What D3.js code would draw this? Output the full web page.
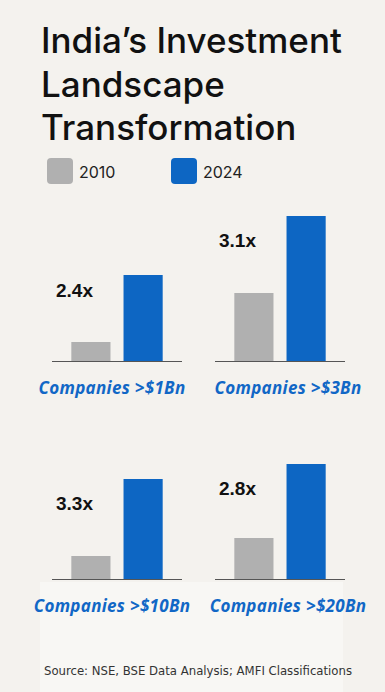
<!DOCTYPE html>
<html>
<head>
<meta charset="utf-8">
<script src="https://cdn.jsdelivr.net/npm/d3@7"></script>
<style>
  html, body { margin: 0; padding: 0; background: #f4f2ee; }
  svg { display: block; }
</style>
</head>
<body>
<div id="chart"></div>
<script>
// data (bar heights in relative units)
var categories = ['Companies >$1Bn', 'Companies >$3Bn', 'Companies >$10Bn', 'Companies >$20Bn']
var years = ['2010', '2024']
var values2010 = [19, 68, 23, 41]
var values2024 = [86, 145, 100, 115]
var multipliers = ['2.4x', '3.1x', '3.3x', '2.8x']

var colors = { '2010': '#b0b0b0', '2024': '#0d66c3' }
var width = 385, height = 692

var svg = d3.select('#chart').append('svg').attr('width', width).attr('height', height)
svg.append('rect').attr('width', width).attr('height', height).attr('fill', '#f4f2ee')

// faint lighter patch behind the bottom area
svg.append('rect').attr('x', 40).attr('y', 582).attr('width', 303).attr('height', 110).attr('fill', '#f8f7f4')

// title
var title = svg.append('text')
  .attr('x', 41).attr('y', 53)
  .style('font-family', 'Inter, Roboto, sans-serif')
  .style('font-weight', 500)
  .style('font-size', '35px')
  .attr('fill', '#111')
;['India\u2019s Investment', 'Landscape', 'Transformation'].forEach(function(t, i) {
  title.append('tspan').attr('x', 41).attr('dy', i == 0 ? 0 : 43.5).text(t)
})

// legend
var legend = svg.append('g').attr('transform', 'translate(47,158)')
legend.selectAll('g').data(years).enter().append('g')
  .attr('transform', function(d, i) { return 'translate(' + (i * 124) + ',0)' })
  .each(function(d) {
    var g = d3.select(this)
    g.append('rect').attr('width', 26).attr('height', 26).attr('rx', 4).attr('fill', colors[d])
    g.append('text').attr('x', 32).attr('y', 20)
      .style('font-family', 'Inter, Roboto, sans-serif').style('font-size', '16px')
      .attr('fill', '#222').text(d)
  })

// panels
var panelW = 130
var colX = [52, 215]
var rowBase = [361, 579]
var labelShift = [-5, 8]

var x = d3.scaleBand().domain(years).range([0, panelW]).paddingInner(0.25).paddingOuter(0.37)
var h = d3.scaleLinear().domain([0, 150]).range([0, 150])

categories.forEach(function(cat, i) {
  var col = i % 2, row = Math.floor(i / 2)
  var g = svg.append('g').attr('transform', 'translate(' + colX[col] + ',' + rowBase[row] + ')')
  var vals = [values2010[i], values2024[i]]

  g.selectAll('rect.bar').data(years).enter().append('rect')
    .attr('class', 'bar')
    .attr('x', function(d) { return x(d) })
    .attr('width', x.bandwidth())
    .attr('y', function(d, j) { return -h(vals[j]) })
    .attr('height', function(d, j) { return h(vals[j]) })
    .attr('fill', function(d) { return colors[d] })

  g.append('line').attr('x1', 0).attr('x2', panelW).attr('y1', 0.5).attr('y2', 0.5)
    .attr('stroke', '#555').attr('stroke-width', 1.2)

  var ly = Math.min(-h(vals[1]) + 31, -64)
  g.append('text')
    .attr('x', 4).attr('y', ly)
    .style('font-family', '"Liberation Sans", Arial, sans-serif')
    .style('font-weight', 700).style('font-size', '19px')
    .attr('fill', '#111').text(multipliers[i])

  g.append('text')
    .attr('x', panelW / 2 + labelShift[col]).attr('y', 33).attr('text-anchor', 'middle')
    .style('font-family', '"Open Sans", sans-serif')
    .style('font-weight', 700).style('font-style', 'italic').style('font-size', '17px')
    .style('letter-spacing', '0.3px')
    .attr('fill', '#1167c6').text(cat)
})

// source
svg.append('text')
  .attr('x', 198).attr('y', 675).attr('text-anchor', 'middle')
  .style('font-family', '"DejaVu Sans Condensed", sans-serif')
  .style('font-size', '13px')
  .attr('fill', '#333')
  .text('Source: NSE, BSE Data Analysis; AMFI Classifications')
</script>
</body>
</html>
